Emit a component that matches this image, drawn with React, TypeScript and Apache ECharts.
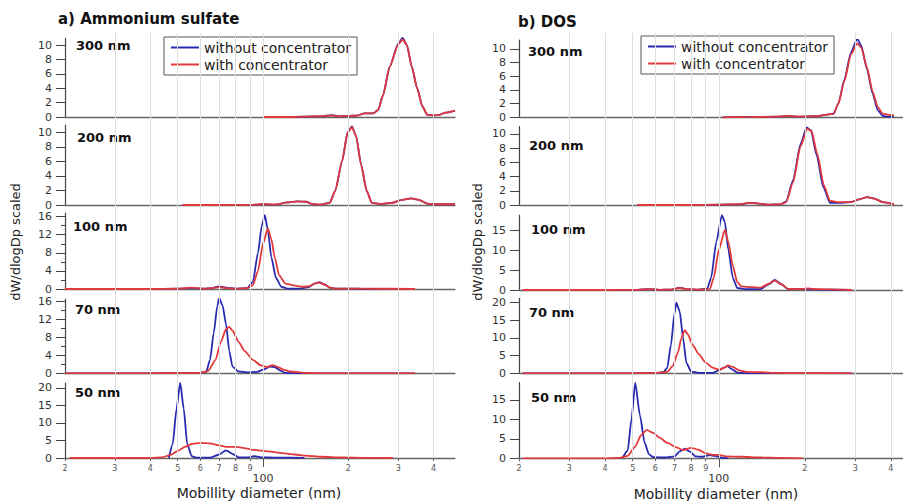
import React, { useEffect, useRef } from "react";
import * as echarts from "echarts";

// ---------- data ----------
const LEGEND_NAMES = ["without concentrator", "with concentrator"];
const SIZE_LABELS = ["300 nm", "200 nm", "100 nm", "70 nm", "50 nm"];
const GRIDLINE_VALUES = [30, 40, 50, 60, 70, 80, 90, 100, 200, 300, 400];
const X_TICK_VALUES = [20, 30, 40, 50, 60, 70, 80, 90, 100, 200, 300, 400];
const X_LONG_TICKS = [100];

const Y_MAJOR_A = [[0, 2, 4, 6, 8, 10], [0, 2, 4, 6, 8, 10], [0, 4, 8, 12, 16], [0, 4, 8, 12, 16], [0, 5, 10, 15, 20]];
const Y_MINOR_A = [[], [], [2, 6, 10, 14], [2, 6, 10, 14], []];
const Y_MAJOR_B = [[0, 2, 4, 6, 8, 10], [0, 2, 4, 6, 8, 10], [0, 5, 10, 15], [0, 5, 10, 15, 20], [0, 5, 10, 15]];
const Y_MINOR_B = [[], [], [], [], []];
const Y_MAX_A = [11, 11, 16.8, 16.5, 21.4];
const Y_MAX_B = [11.3, 11.0, 18.75, 21.2, 19.4];
const X_MAX_A = 476;
const X_MAX_B = 441;

// a) Ammonium sulfate
const a300Without = [[100,0],[120,0],[140,0.05],[160,0.1],[175,0.25],[185,0.1],[200,0.15],[215,0.2],[228,0.5],[245,0.5],[255,1.0],[265,3],[280,7],[300,10.2],[311,11.0],[322,10],[335,7],[350,4],[365,1.5],[380,0.3],[400,0.2],[420,0.3],[440,0.6],[476,0.9]];
const a300With = [[100,0],[120,0],[140,0.05],[160,0.1],[175,0.2],[185,0.1],[200,0.15],[215,0.2],[228,0.5],[245,0.5],[255,1.0],[265,3],[280,7],[300,10.1],[311,10.8],[322,10],[335,7],[350,4],[365,1.5],[380,0.3],[400,0.2],[420,0.3],[440,0.6],[476,0.9]];
const a200Without = [[52,0],[70,0],[90,0.02],[100,0.1],[110,0.05],[122,0.35],[132,0.5],[142,0.45],[150,0.1],[160,0.05],[172,0.3],[180,2],[190,6],[199,10],[206,10.8],[213,9.5],[222,5.5],[232,2],[242,0.3],[260,0.15],[285,0.3],[310,0.7],[333,0.9],[355,0.7],[380,0.2],[400,0.1],[476,0.1]];
const a200With = [[52,0],[70,0],[90,0.02],[100,0.1],[110,0.05],[122,0.35],[132,0.5],[142,0.45],[150,0.1],[160,0.05],[172,0.3],[180,2],[190,6],[199,10],[206,10.7],[213,9.5],[222,5.5],[232,2],[242,0.3],[260,0.15],[285,0.3],[310,0.7],[333,0.9],[355,0.7],[380,0.2],[400,0.1],[476,0.1]];
const a100Without = [[20,0],[40,0],[50,0.05],[56,0.2],[62,0.05],[66,0.2],[70,0.6],[74,0.3],[80,0.1],[88,0.2],[92,1.5],[96,8],[99,14],[101.5,16.3],[104,13],[107,7],[111,2.5],[116,0.5],[122,0.1],[135,0.1],[145,0.4],[152,1.2],[158,1.5],[165,1.0],[172,0.3],[180,0.1],[220,0.05],[344,0]];
const a100With = [[20,0],[40,0],[50,0.05],[56,0.3],[62,0.05],[66,0.2],[70,0.4],[74,0.2],[80,0.1],[88,0.2],[92,0.8],[96,4],[100,10],[104,13.4],[107,11],[110,7],[114,3],[120,1.2],[128,0.8],[138,0.5],[145,0.6],[152,1.2],[158,1.4],[165,1.0],[172,0.3],[180,0.1],[220,0.1],[344,0]];
const a70Without = [[20,0],[40,0],[55,0.05],[60,0.1],[63,0.3],[65,3],[67,9],[69,15],[70,16.8],[72,15],[74,11],[76,5],[78,1.5],[82,0.4],[88,0.2],[95,0.3],[100,0.8],[106,1.5],[110,1.4],[115,0.6],[120,0.1],[140,0],[344,0]];
const a70With = [[20,0],[40,0],[55,0.05],[60,0.1],[64,0.5],[68,3],[71,7],[74,9.8],[76,10.3],[78,9.5],[82,7],[86,5],[92,3],[98,1.8],[103,1.4],[108,1.8],[112,1.5],[118,0.8],[125,0.4],[140,0.1],[160,0],[344,0]];
const a50Without = [[46.5,0],[48,4],[49.5,14],[51,21.5],[52.5,14],[54,4],[56,0.5],[58,0.1],[65,0.1],[70,1],[74,2.2],[78,1.2],[82,0.2],[88,0.2],[93,0.5],[100,0.2],[110,0.1],[140,0.05]];
const a50With = [[20.8,0],[30,0],[40,0.05],[44,0.2],[47,0.8],[50,2],[53,3.2],[56,4],[60,4.3],[65,4.2],[70,3.6],[74,3.2],[80,3.2],[86,2.8],[93,2.3],[104,1.9],[117,1.4],[130,1.0],[141,0.7],[160,0.35],[190,0.15],[228,0.05],[288,0]];

// b) DOS
const b300Without = [[103,0],[130,0.05],[160,0.1],[175,0.2],[190,0.1],[220,0.15],[240,0.4],[252,0.5],[262,2],[275,5.5],[290,9.5],[305,11.5],[315,10.5],[330,7],[345,3.5],[360,1],[375,0.2],[390,0.1],[410,0.1]];
const b300With = [[103,0],[130,0.05],[160,0.1],[175,0.2],[190,0.1],[220,0.15],[240,0.4],[252,0.5],[262,2],[275,5.3],[290,9.2],[305,10.8],[315,10.2],[330,7.3],[345,3.8],[360,1.5],[375,0.5],[390,0.4],[410,0.3]];
const b200Without = [[52,0],[80,0],[100,0.05],[118,0.1],[128,0.3],[138,0.2],[150,0.05],[165,0.1],[172,0.5],[182,3.5],[193,8.5],[203,10.9],[210,10.5],[220,7],[232,2.5],[245,0.3],[260,0.3],[290,0.4],[310,0.8],[330,1.1],[350,0.9],[375,0.4],[410,0.1]];
const b200With = [[52,0],[80,0],[100,0.05],[118,0.1],[128,0.3],[138,0.2],[150,0.05],[165,0.1],[172,0.4],[182,3.2],[193,8.2],[204,10.7],[211,10.4],[221,7.2],[233,2.8],[245,0.6],[260,0.4],[290,0.4],[310,0.8],[330,1.1],[350,0.9],[375,0.4],[410,0.1]];
const b100Without = [[20.6,0],[40,0],[52,0.05],[57,0.2],[62,0.05],[68,0.1],[73,0.6],[77,0.2],[85,0.1],[91,0.3],[94,3],[98,12],[102.5,18.7],[105,17],[108,10],[112,3],[116,0.5],[125,0.2],[140,0.2],[150,1.5],[157,2.5],[165,1.5],[175,0.2],[200,0.2],[230,0.1],[292,0]];
const b100With = [[20.6,0],[40,0],[52,0.05],[57,0.2],[62,0.05],[68,0.1],[73,0.5],[77,0.2],[85,0.1],[93,0.2],[96,3],[100,10],[105,15],[108,12],[112,6],[116,2],[120,0.9],[130,0.7],[140,0.6],[150,1.6],[157,2.4],[165,1.5],[175,0.3],[190,0.2],[205,0.4],[220,0.2],[292,0]];
const b70Without = [[20.6,0],[50,0],[60,0.1],[64,0.3],[66,1.5],[68,8],[70,17],[71,20],[73,17.5],[75,10],[77,3],[80,0.5],[85,0.1],[95,0.1],[100,0.8],[104,1.6],[107,2.0],[111,1.2],[116,0.2],[125,0],[292,0]];
const b70With = [[20.6,0],[50,0],[60,0.1],[66,0.4],[69,2],[72,6],[74,10],[76,12.2],[78,11],[81,8],[85,5.5],[90,3],[95,1.6],[100,1.0],[104,1.5],[108,2.2],[112,1.8],[118,0.8],[125,0.4],[140,0.3],[160,0.1],[180,0.05],[292,0]];
const b50Without = [[46,0],[48,2],[49.5,10],[51,19.4],[53,11],[55,4],[57,1],[59,0.3],[65,0.2],[70,0.5],[73,1.8],[76,2.5],[79,1.8],[83,0.5],[88,0.4],[93,0.8],[97,0.6],[103,0.1],[108,0]];
const b50With = [[20.6,0],[40,0],[45,0.1],[48,0.6],[51,3],[53.5,6],[56,7.3],[59,6.5],[62,5.3],[66,4],[71,2.8],[75,2.1],[80,2.7],[85,2.2],[90,1.3],[95,0.9],[100,0.9],[106,0.5],[120,0.4],[140,0.2],[165,0.1],[196,0]];

const DATA_A = [[a300Without, a300With], [a200Without, a200With], [a100Without, a100With], [a70Without, a70With], [a50Without, a50With]];
const DATA_B = [[b300Without, b300With], [b200Without, b200With], [b100Without, b100With], [b70Without, b70With], [b50Without, b50With]];

// ---------- layout / style ----------
const FONT = "DejaVu Sans";
const COLORS = ["#2828b0", "#e2383a"];
const AXIS_COLOR = "#444";

const PANELS = [
  {
    left: 65, width: 390, xMax: X_MAX_A,
    tops: [38, 125, 213, 299, 383], bottoms: [117, 205, 289, 373.3, 458],
    yMax: Y_MAX_A, major: Y_MAJOR_A, minor: Y_MINOR_A, data: DATA_A,
    legend: { left: 164, top: 37 },
    title: { text: "a) Ammonium sulfate", x: 58, y: 19 },
    labelPos: [[76, 45], [77, 137], [73, 226], [75, 309], [75, 392]],
    yName: { x: 15, y: 242 }, xName: { x: 259, y: 493 },
  },
  {
    left: 519, width: 384, xMax: X_MAX_B,
    tops: [40, 126.7, 215, 298.3, 382.7], bottoms: [117.3, 205, 290, 373.3, 458.3],
    yMax: Y_MAX_B, major: Y_MAJOR_B, minor: Y_MINOR_B, data: DATA_B,
    legend: { left: 641, top: 36 },
    title: { text: "b) DOS", x: 518, y: 22 },
    labelPos: [[528, 51], [529, 145], [531, 229], [529, 312], [531, 397]],
    yName: { x: 477, y: 242 }, xName: { x: 716, y: 494 },
  },
];

function buildOption() {
  const grid: any[] = [];
  const xAxis: any[] = [];
  const yAxis: any[] = [];
  const series: any[] = [];
  const graphic: any[] = [];
  const legend: any[] = [];

  PANELS.forEach((p) => {
    // background grid for vertical grid lines
    const bg = grid.length;
    grid.push({ left: p.left, width: p.width, top: 33, height: p.bottoms[4] - 33 });
    const bgX = xAxis.length;
    xAxis.push({
      type: "log", gridIndex: bg, min: 20, max: p.xMax,
      axisLine: { show: false }, axisTick: { show: false }, axisLabel: { show: false }, splitLine: { show: false },
    });
    const bgY = yAxis.length;
    yAxis.push({
      type: "value", gridIndex: bg, min: 0, max: 1,
      axisLine: { show: false }, axisTick: { show: false }, axisLabel: { show: false }, splitLine: { show: false },
    });
    series.push({
      type: "line", xAxisIndex: bgX, yAxisIndex: bgY, data: [[20, 0]], symbol: "none",
      lineStyle: { opacity: 0 }, silent: true, z: 0,
      markLine: {
        silent: true, symbol: ["none", "none"], label: { show: false },
        lineStyle: { color: "#dedede", width: 1, type: "solid" },
        data: GRIDLINE_VALUES.map((v) => ({ xAxis: v })),
      },
    });

    for (let i = 0; i < 5; i++) {
      const g = grid.length;
      const isBottom = i === 4;
      grid.push({ left: p.left, width: p.width, top: p.tops[i], height: p.bottoms[i] - p.tops[i] });
      const xi = xAxis.length;
      xAxis.push({
        type: "log", gridIndex: g, min: 20, max: p.xMax, position: "bottom", z: 1,
        axisLine: { show: true, onZero: false, lineStyle: { color: "#666", width: 1.3 } },
        axisTick: isBottom
          ? { show: true, customValues: X_TICK_VALUES, length: 3, lineStyle: { color: "#666" } }
          : { show: false },
        axisLabel: isBottom
          ? {
              show: true, customValues: X_TICK_VALUES, margin: 6,
              formatter: (v: number) => (Math.round(v) === 100 ? "{big|100}" : "{small|" + String(Math.round(v)).charAt(0) + "}"),
              rich: {
                small: { fontFamily: FONT, fontSize: 8, color: "#555" },
                big: { fontFamily: FONT, fontSize: 11, color: "#333", padding: [9, 0, 0, 0] },
              },
            }
          : { show: false },
        splitLine: { show: false },
      });
      if (isBottom) {
        xAxis.push({
          type: "log", gridIndex: g, min: 20, max: p.xMax, position: "bottom", z: 1,
          axisLine: { show: false },
          axisTick: { show: true, customValues: X_LONG_TICKS, length: 9, lineStyle: { color: "#555" } },
          axisLabel: { show: false }, splitLine: { show: false },
        });
      }
      const yi = yAxis.length;
      yAxis.push({
        type: "value", gridIndex: g, min: 0, max: p.yMax[i], position: "left", z: 1,
        axisLine: { show: true, lineStyle: { color: AXIS_COLOR, width: 1.2 } },
        axisTick: { show: true, customValues: p.major[i], length: 9, lineStyle: { color: AXIS_COLOR } },
        axisLabel: {
          show: true, customValues: p.major[i], margin: 13,
          fontFamily: FONT, fontSize: 11, lineHeight: 10, color: "#333",
        },
        splitLine: { show: false },
      });
      if (p.minor[i].length) {
        yAxis.push({
          type: "value", gridIndex: g, min: 0, max: p.yMax[i], position: "left", offset: 0, z: 1,
          axisLine: { show: false },
          axisTick: { show: true, customValues: p.minor[i], length: 4, lineStyle: { color: AXIS_COLOR } },
          axisLabel: { show: false }, splitLine: { show: false },
        });
      }
      p.data[i].forEach((d, k) => {
        series.push({
          type: "line", name: LEGEND_NAMES[k], xAxisIndex: xi, yAxisIndex: yi,
          data: d, showSymbol: false, symbol: "none", smooth: 0.2, smoothMonotone: "x",
          lineStyle: { color: COLORS[k], width: 1.8 }, itemStyle: { color: COLORS[k] }, z: 2 + k,
        });
      });
      graphic.push({
        type: "text", x: p.labelPos[i][0], y: p.labelPos[i][1],
        style: { text: SIZE_LABELS[i], font: `bold 13px "${FONT}"`, fill: "#111", textAlign: "left", textVerticalAlign: "middle" },
      });
    }

    graphic.push({
      type: "text", x: p.title.x, y: p.title.y,
      style: { text: p.title.text, font: `bold 15px "${FONT}"`, fill: "#111", textAlign: "left", textVerticalAlign: "middle" },
    });
    graphic.push({
      type: "text", x: p.yName.x, y: p.yName.y, rotation: Math.PI / 2,
      style: { text: "dW/dlogDp scaled", font: `13px "${FONT}"`, fill: "#222", textAlign: "center", textVerticalAlign: "middle" },
    });
    graphic.push({
      type: "text", x: p.xName.x, y: p.xName.y,
      style: { text: "Mobillity diameter (nm)", font: `14px "${FONT}"`, fill: "#222", textAlign: "center", textVerticalAlign: "middle" },
    });

    legend.push({
      left: p.legend.left, top: p.legend.top, orient: "vertical", data: LEGEND_NAMES,
      icon: "rect", itemWidth: 28, itemHeight: 2, itemGap: 2, padding: [3, 6, 3, 7],
      borderColor: "#555", borderWidth: 1, backgroundColor: "#fff", selectedMode: false,
      textStyle: { fontFamily: FONT, fontSize: 14, color: "#222", lineHeight: 15 },
    });
  });

  return {
    animation: false,
    backgroundColor: "#fff",
    grid, xAxis, yAxis, series, graphic, legend,
  };
}

export default function App() {
  const ref = useRef<HTMLDivElement>(null);
  useEffect(() => {
    if (!ref.current) return;
    const chart = echarts.init(ref.current, undefined, { renderer: "svg" });
    chart.setOption(buildOption() as any);
    return () => chart.dispose();
  }, []);
  return <div ref={ref} style={{ width: 903, height: 501, position: "absolute", left: 0, top: 0 }} />;
}
